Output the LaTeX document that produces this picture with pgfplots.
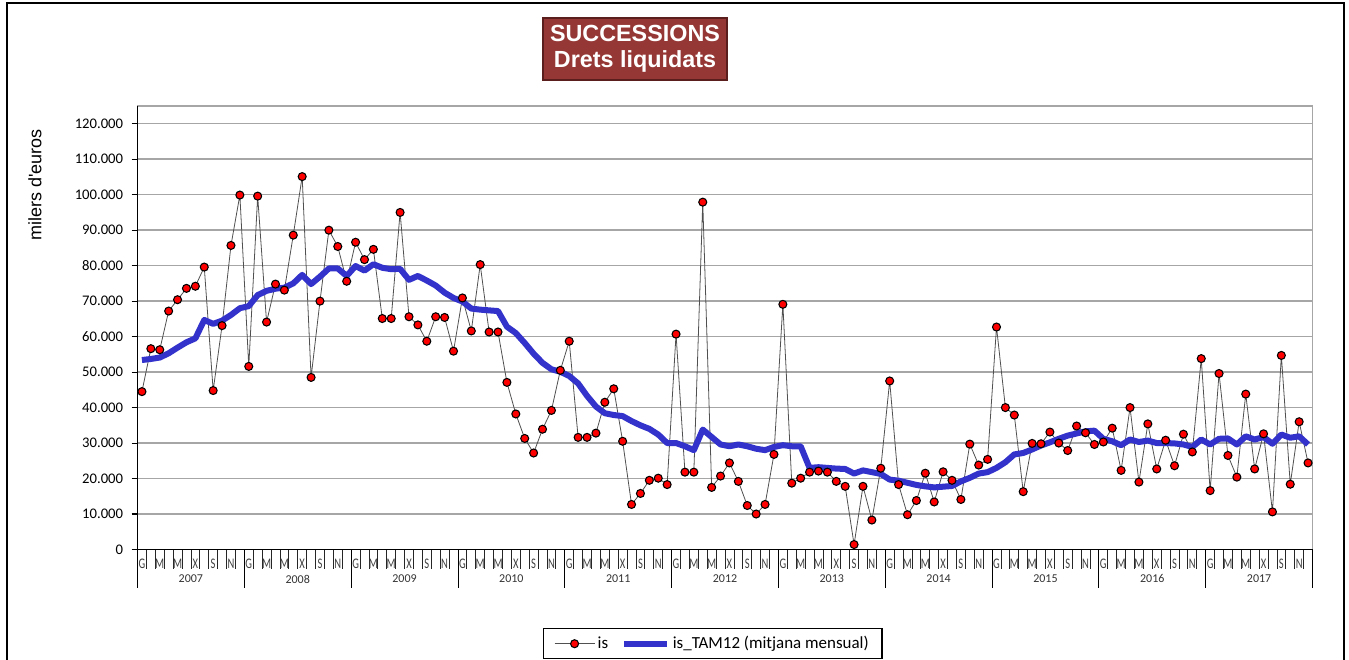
\documentclass[border=0pt]{standalone}
\usepackage{pgfplots}
\pgfplotsset{compat=1.18}
\usepackage{pgfplotstable}
\usepackage{fontspec}
\setmainfont{Carlito}
\newfontfamily\arialfont{Liberation Sans}
\newfontfamily\narrowfont[FakeStretch=0.72]{Carlito}
\definecolor{titlered}{RGB}{149,55,53}
\definecolor{titledark}{RGB}{90,30,28}
\definecolor{tamblue}{RGB}{51,51,204}
\definecolor{gridgray}{RGB}{166,166,166}
\definecolor{linegray}{RGB}{80,80,80}

\pgfplotstableread{
i is tam
0 44500 53400
1 56600 53700
2 56300 54100
3 67200 55300
4 70400 56900
5 73600 58400
6 74200 59500
7 79600 64700
8 44800 63600
9 63100 64500
10 85700 66100
11 99900 68000
12 51600 68600
13 99600 71700
14 64100 72900
15 74800 73500
16 73100 73800
17 88600 75000
18 105100 77400
19 48500 74800
20 70000 76900
21 90000 79200
22 85400 79200
23 75600 77100
24 86600 79900
25 81700 78600
26 84600 80400
27 65100 79400
28 65100 79000
29 95000 79100
30 65600 76000
31 63300 77100
32 58700 75800
33 65600 74400
34 65400 72400
35 55900 70900
36 70900 69900
37 61600 67900
38 80300 67600
39 61300 67400
40 61300 67200
41 47100 62800
42 38200 61000
43 31300 58200
44 27200 55200
45 33900 52600
46 39200 50800
47 50500 50100
48 58700 48900
49 31600 46800
50 31600 43300
51 32800 40300
52 41500 38400
53 45300 37900
54 30500 37600
55 12700 36200
56 15800 35000
57 19500 34000
58 20100 32400
59 18300 30000
60 60700 30000
61 21800 29100
62 21800 28000
63 97900 33800
64 17500 31700
65 20700 29600
66 24400 29100
67 19200 29600
68 12400 29100
69 10000 28400
70 12700 28000
71 26800 28900
72 69100 29400
73 18700 29100
74 20100 29100
75 21800 23000
76 22100 23200
77 21800 23000
78 19200 22800
79 17800 22700
80 1400 21400
81 17800 22300
82 8300 21800
83 22900 21300
84 47500 19700
85 18300 19400
86 9800 18800
87 13800 18200
88 21500 17800
89 13400 17500
90 21900 17700
91 19500 17900
92 14100 19200
93 29700 20200
94 23800 21400
95 25400 21800
96 62700 23000
97 40000 24600
98 37900 26800
99 16300 27200
100 29900 28200
101 29800 29300
102 33100 30200
103 30000 31200
104 27900 32100
105 34800 32700
106 32900 33300
107 29600 33500
108 30300 31200
109 34200 30500
110 22300 29400
111 40000 31000
112 19000 30300
113 35400 30700
114 22700 30000
115 30800 30000
116 23600 29900
117 32500 29600
118 27500 28900
119 53800 31000
120 16600 29600
121 49600 31200
122 26500 31300
123 20400 29600
124 43800 31900
125 22700 31000
126 32600 31700
127 10600 29800
128 54700 32400
129 18400 31500
130 36000 31900
131 24400 29600
}\datatable

\begin{document}
\begin{tikzpicture}[x=0.75pt,y=0.75pt]
\path[use as bounding box] (0,0) rectangle (1349,660);
% outer frame
\draw[black, line width=1.2pt] (7,-20) -- (7,657) -- (1344,657) -- (1344,-20);
% title box
\node[fill=titlered, draw=titledark, line width=0.8pt, text=white,
      font=\arialfont\bfseries\fontsize{17.5}{19.5}\selectfont,
      align=center, minimum width=138pt, minimum height=46.5pt, inner sep=2pt]
      at (635,611) {SUCCESSIONS\\Drets liquidats};

\begin{axis}[
  at={(103.125pt,82.875pt)}, anchor=south west,
  scale only axis, width=881.25pt, height=332.625pt,
  xmin=-0.5, xmax=131.5, ymin=0, ymax=125000,
  clip=false,
  axis line style={draw=gridgray, line width=0.9pt},
  tick align=outside,
  xtick pos=bottom, ytick pos=left,
  xtick={0,2,...,130},
  xticklabels={G,M,M,X,S,N,G,M,M,X,S,N,G,M,M,X,S,N,G,M,M,X,S,N,G,M,M,X,S,N,G,M,M,X,S,N,G,M,M,X,S,N,G,M,M,X,S,N,G,M,M,X,S,N,G,M,M,X,S,N,G,M,M,X,S,N},
  minor xtick={-0.5,0.5,...,131.5},
  minor tick length=14.6pt,
  xtick style={/pgfplots/major tick length=0pt, black!85, line width=0.6pt},
  x tick label style={font=\narrowfont\fontsize{11}{12}\selectfont, color=black!75, inner sep=2.5pt},
  ytick={0,10000,...,120000},
  ytick style={/pgfplots/major tick length=4.5pt, black, line width=0.8pt},
  scaled y ticks=false,
  /pgf/number format/fixed,
  /pgf/number format/1000 sep={.},
  /pgf/number format/assume math mode=true,
  y tick label style={font=\fontsize{11}{13}\selectfont, xshift=-3pt},
  ymajorgrids,
  grid style={draw=gridgray, line width=1.1pt},
  ylabel={milers d'euros},
  ylabel style={at={(axis description cs:-0.0872,0.822)}, anchor=center,
     font=\arialfont\fontsize{13.5}{15}\selectfont},
  legend style={at={(axis description cs:0.3451,-0.177)}, anchor=north west,
     draw=black, line width=0.8pt, font=\fontsize{12.7}{15}\selectfont,
     inner xsep=8pt, inner ysep=4pt,
     /tikz/every even column/.append style={column sep=8pt}},
  legend columns=2,
]
\addplot[draw=linegray, line width=0.6pt, mark=*, mark size=3pt,
  mark options={fill=red, draw=black, line width=0.8pt},
  legend image code/.code={\draw[mark repeat=2,mark phase=2] plot coordinates {(0pt,0pt)(15pt,0pt)(30pt,0pt)};}]
  table[x=i, y=is] {\datatable};
\addlegendentry{is}
\addplot[draw=tamblue, line width=4.5pt, line join=round, no marks,
  legend image code/.code={\draw (0pt,0pt) -- (32pt,0pt);}]
  table[x=i, y=tam] {\datatable};
\addlegendentry{is\_TAM12 (mitjana mensual)}
\draw[black, line width=0.9pt] (rel axis cs:0,1) -- (rel axis cs:0,0) -- (rel axis cs:1,0);
\pgfplotsinvokeforeach{-0.5,11.5,23.5,35.5,47.5,59.5,71.5,83.5,95.5,107.5,119.5,131.5}{
  \draw[black, line width=0.6pt] (axis cs:#1,0) -- ++(0pt,-29pt);
}
\node[font=\fontsize{9}{10}\selectfont, color=black!80] at (axis cs:5.5,0) [yshift=-22.1pt] {2007};
\node[font=\fontsize{9}{10}\selectfont, color=black!80] at (axis cs:17.5,0) [yshift=-22.1pt] {2008};
\node[font=\fontsize{9}{10}\selectfont, color=black!80] at (axis cs:29.5,0) [yshift=-22.1pt] {2009};
\node[font=\fontsize{9}{10}\selectfont, color=black!80] at (axis cs:41.5,0) [yshift=-22.1pt] {2010};
\node[font=\fontsize{9}{10}\selectfont, color=black!80] at (axis cs:53.5,0) [yshift=-22.1pt] {2011};
\node[font=\fontsize{9}{10}\selectfont, color=black!80] at (axis cs:65.5,0) [yshift=-22.1pt] {2012};
\node[font=\fontsize{9}{10}\selectfont, color=black!80] at (axis cs:77.5,0) [yshift=-22.1pt] {2013};
\node[font=\fontsize{9}{10}\selectfont, color=black!80] at (axis cs:89.5,0) [yshift=-22.1pt] {2014};
\node[font=\fontsize{9}{10}\selectfont, color=black!80] at (axis cs:101.5,0) [yshift=-22.1pt] {2015};
\node[font=\fontsize{9}{10}\selectfont, color=black!80] at (axis cs:113.5,0) [yshift=-22.1pt] {2016};
\node[font=\fontsize{9}{10}\selectfont, color=black!80] at (axis cs:125.5,0) [yshift=-22.1pt] {2017};
\end{axis}
\end{tikzpicture}
\end{document}
